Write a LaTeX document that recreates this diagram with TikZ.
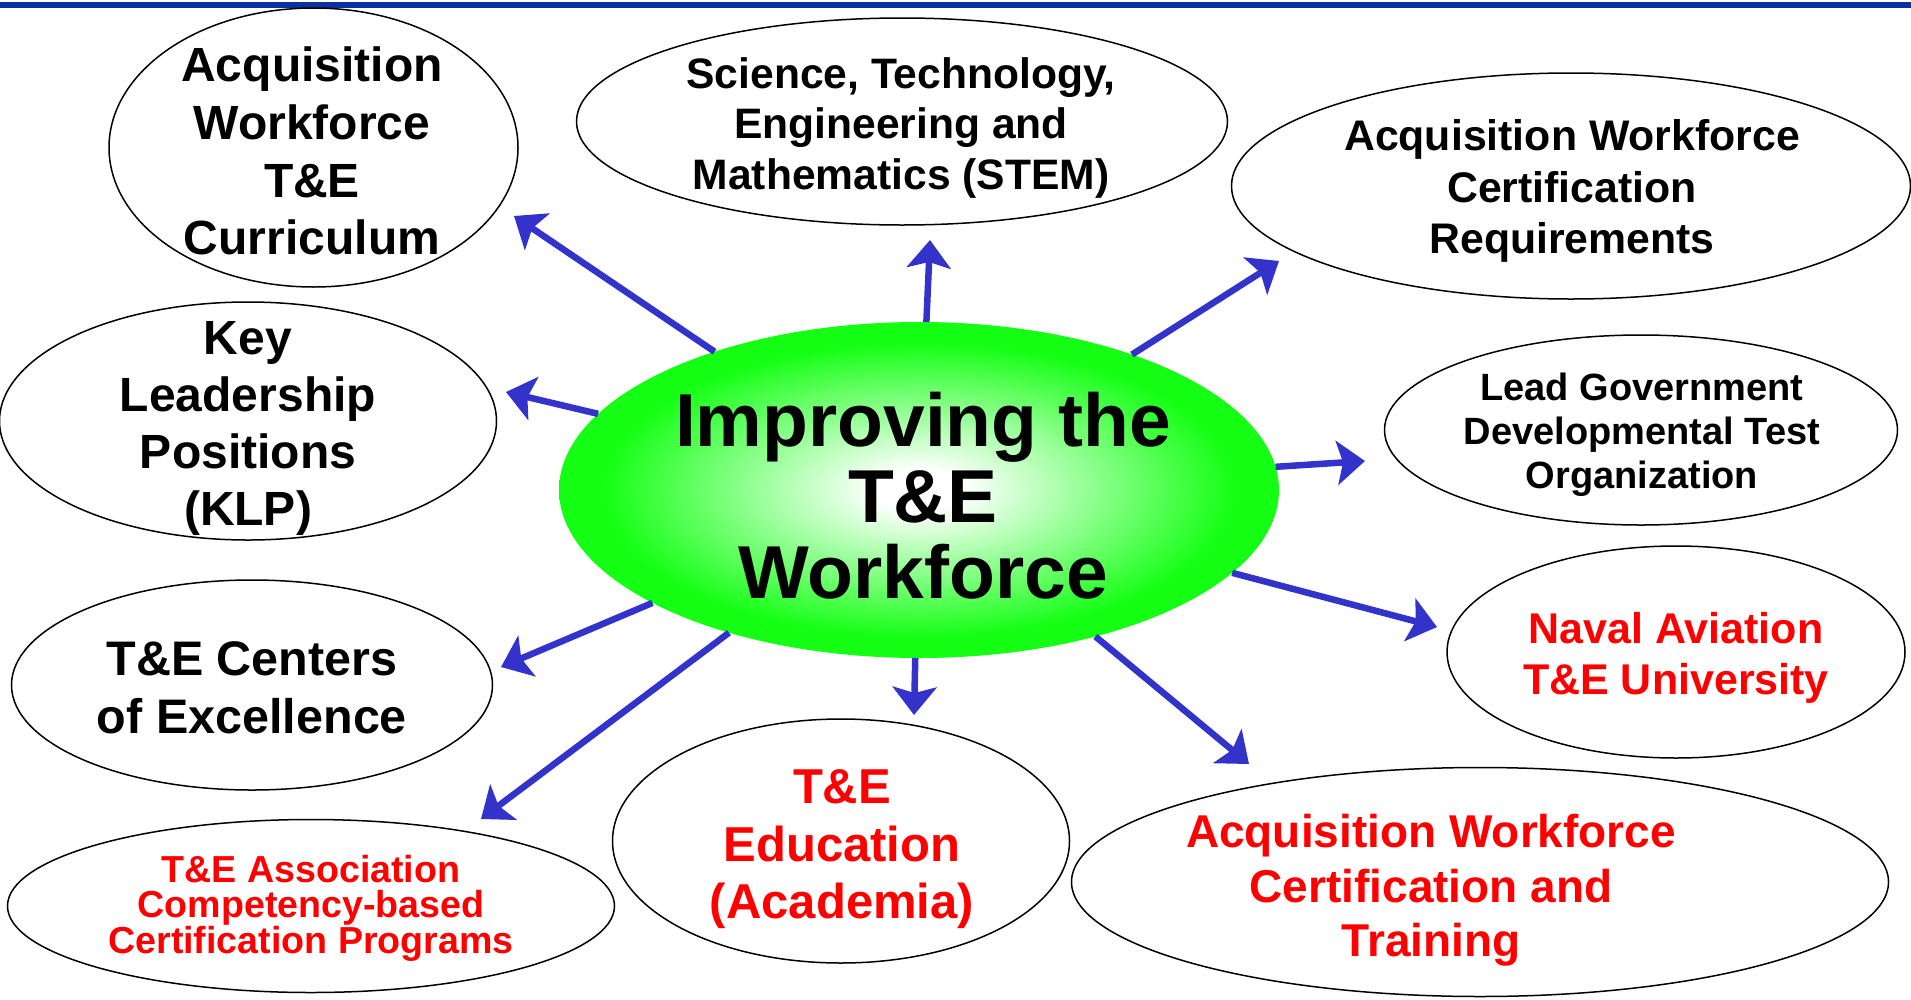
\documentclass[tikz,border=0pt]{standalone}
\usepackage{fontspec}
\setmainfont{Liberation Sans}
\usepackage{tikz}
\usetikzlibrary{arrows.meta,shapes.geometric,positioning}
\usepackage{xcolor}
\definecolor{twblue}{RGB}{51,51,204}
\definecolor{twbar}{RGB}{8,48,160}
\definecolor{twgreen}{RGB}{20,255,20}
\definecolor{twred}{RGB}{255,0,0}
\pgfdeclareradialshading{hubglow}{\pgfpoint{0bp}{0bp}}{color(0bp)=(white); color(3bp)=(white); color(22bp)=(twgreen); color(25bp)=(twgreen); color(50bp)=(twgreen)}
\newcommand{\bubblefont}[2]{\bfseries\fontsize{#1}{#2}\selectfont}
\tikzstyle{spoke} = [line width=6.5pt, -{Stealth[length=28pt,width=44pt,inset=6pt]}, color=twblue]
\tikzstyle{bubble} = [ellipse, draw=black, line width=1.5pt, inner sep=0pt, outer sep=0pt]
\tikzstyle{hubshape} = [ellipse, inner sep=0pt, outer sep=0pt, shading=hubglow]
\tikzstyle{blacktext} = [align=center, inner sep=0pt, text=black]
\tikzstyle{redtext} = [align=center, inner sep=0pt, text=twred]

\begin{document}
\begin{tikzpicture}[x=1pt, y=-1pt]
\useasboundingbox (0,0) rectangle (1911,999);
% Title bar
\fill[twbar] (0,1.5) rectangle (1911,7.5);

% Hub
\node[hubshape, minimum width=720, minimum height=336] (hub) at (919,490) {};

% Outer bubbles
\node[bubble, minimum width=409, minimum height=279] (cur) at (313.5,147.5) {};
\node[bubble, minimum width=651, minimum height=207] (stem) at (902,121.5) {};
\node[bubble, minimum width=679, minimum height=226] (req) at (1571,186) {};
\node[bubble, minimum width=513, minimum height=190] (lead) at (1641,430) {};
\node[bubble, minimum width=458, minimum height=212] (naval) at (1676,652) {};
\node[bubble, minimum width=817, minimum height=229] (train) at (1480,882) {};
\node[bubble, minimum width=457, minimum height=244] (edu) at (841,841) {};
\node[bubble, minimum width=607, minimum height=173] (assoc) at (311,906) {};
\node[bubble, minimum width=481, minimum height=210] (coe) at (252,685) {};
\node[bubble, minimum width=497, minimum height=238] (klp) at (248,421) {};

% Arrow tips
\coordinate (tcur) at (514,216);
\coordinate (tstem) at (930,240);
\coordinate (treq) at (1279,261);
\coordinate (tlead) at (1365,461);
\coordinate (tnaval) at (1437,627);
\coordinate (ttrain) at (1249,764);
\coordinate (tedu) at (914,715);
\coordinate (tassoc) at (481,819);
\coordinate (tcoe) at (501,667);
\coordinate (tklp) at (506,392);

% Spokes
\foreach \t in {tcur,tstem,treq,tlead,tnaval,ttrain,tedu,tassoc,tcoe,tklp}
  \draw[spoke] (hub) -- (\t);

% Texts
\node[blacktext, font=\bubblefont{75}{76}] (hubtxt) at (923,495.5) {Improving the\\T\&E\\Workforce};
\node[blacktext, font=\bubblefont{48}{57.7}] (curtxt) at (312,151) {Acquisition\\Workforce\\T\&E\\Curriculum};
\node[blacktext, font=\bubblefont{42.6}{50.5}] (stemtxt) at (901,127.5) {Science, Technology,\\Engineering and\\Mathematics (STEM)};
\node[blacktext, font=\bubblefont{42.8}{51.5}] (reqtxt) at (1572,191) {Acquisition Workforce\\Certification\\Requirements};
\node[blacktext, font=\bubblefont{38}{44}] (leadtxt) at (1642,434.5) {Lead Government\\Developmental Test\\Organization};
\node[redtext, font=\bubblefont{43}{51}] (navaltxt) at (1676,658) {Naval Aviation\\T\&E University};
\node[redtext, font=\bubblefont{46}{54.5}] (traintxt) at (1431,890.5) {Acquisition Workforce\\Certification and\\Training};
\node[redtext, font=\bubblefont{49}{57.5}] (edutxt) at (842,849.5) {T\&E\\Education\\(Academia)};
\node[redtext, font=\bubblefont{37.6}{35.5}] (assoctxt) at (311,908) {T\&E Association\\Competency-based\\Certification Programs};
\node[blacktext, font=\bubblefont{48.5}{58}] (coetxt) at (252,688) {T\&E Centers\\of Excellence};
\node[blacktext, font=\bubblefont{48}{57}] (klptxt) at (248,428.5) {Key\\Leadership\\Positions\\(KLP)};
\end{tikzpicture}
\end{document}
